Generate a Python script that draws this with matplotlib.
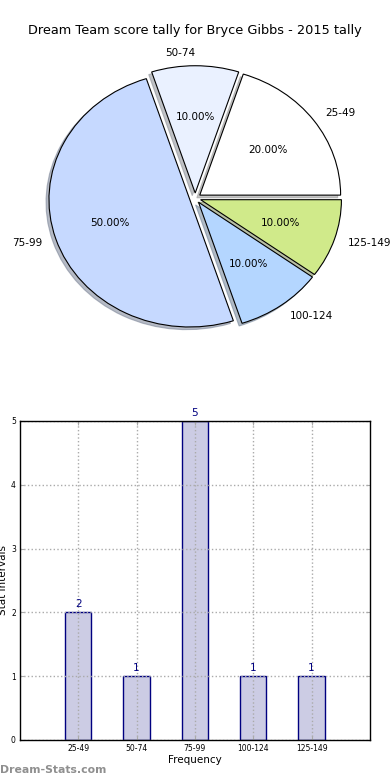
#!/usr/bin/env python3
'''Dream Team score tally - pie and bar chart'''

import numpy as np
import matplotlib
matplotlib.use('Agg')
import matplotlib.pyplot as plt

# score intervals and how many games fell in each
intervals = ['25-49', '50-74', '75-99', '100-124', '125-149']
counts = [2, 1, 5, 1, 1]
pie_colors = ['#ffffff', '#eaf1ff', '#c6d9ff', '#b4d6ff', '#d0ea8a']
title = 'Dream Team score tally for Bryce Gibbs - 2015 tally'

fig = plt.figure(figsize=(3.9, 7.8), dpi=100)

# Pie (stretched like the old non-equal aspect output)
ax1 = fig.add_axes([0.049, 0.542, 0.903, 0.408])
ax1.pie(counts, labels=intervals, colors=pie_colors, autopct='%1.2f%%',
        explode=[0.04] * len(counts),
        shadow={'ox': -0.015, 'oy': -0.015, 'shade': 0.45},
        startangle=0,
        wedgeprops={'edgecolor': 'black', 'linewidth': 0.8},
        textprops={'fontsize': 7.5})
ax1.set_aspect('auto')
ax1.set_xlim(-1.25, 1.25)
ax1.set_ylim(-1.25, 1.25)
fig.text(0.5, 0.961, title, ha='center', va='center', fontsize=9.3)

# Bar chart
ax2 = fig.add_axes([0.0513, 0.0513, 0.897, 0.409])
x = np.arange(len(intervals))
ax2.bar(x, counts, width=0.45, color='#ccccE4', edgecolor='#000080', linewidth=1)
for xi, c in zip(x, counts):
    ax2.text(xi, c + 0.05, str(c), ha='center', va='bottom', color='#000080', fontsize=7.5)

ax2.set_xlim(-1, 5)
ax2.set_ylim(0, 5)
ax2.set_xticks(x)
ax2.set_xticklabels(intervals, fontsize=5.5)
ax2.set_yticks(range(6))
ax2.tick_params(axis='y', labelsize=5.5)
ax2.tick_params(direction='in', length=3, color='#aaaaaa', top=True, right=True, pad=3)
ax2.grid(True, linestyle=':', color='#aaaaaa', linewidth=1)
ax2.set_axisbelow(False)
for s in ax2.spines.values():
    s.set_linewidth(1)
    s.set_zorder(4)
ax2.set_xlabel('Frequency', fontsize=7.5, labelpad=1)
ax2.set_ylabel('Stat Intervals', fontsize=7.5, labelpad=1)
ax2.yaxis.set_label_coords(-0.035, 0.5)

fig.text(0.0, 0.013, 'Dream-Stats.com', fontsize=7.8, color='#8f8f8f',
         fontweight='bold', ha='left', va='center')

fig.savefig('out.png', dpi=100)
